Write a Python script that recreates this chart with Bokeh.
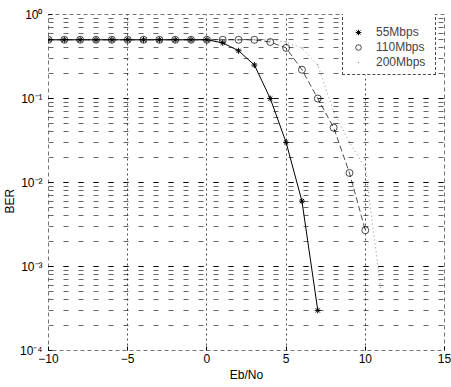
from bokeh.plotting import figure
from bokeh.models import FixedTicker, Range1d, Legend, LegendItem, CustomJSTickFormatter, Title
from bokeh.embed import file_html
from bokeh.resources import INLINE

# Data
x55 = [-10, -9, -8, -7, -6, -5, -4, -3, -2, -1, 0, 1, 2, 3, 4, 5, 6, 7]
ber55 = [0.5, 0.5, 0.5, 0.5, 0.5, 0.5, 0.5, 0.5, 0.5, 0.5, 0.5, 0.46, 0.37, 0.25, 0.1, 0.03, 0.006, 0.0003]

x110 = [-10, -9, -8, -7, -6, -5, -4, -3, -2, -1, 0, 1, 2, 3, 4, 5, 6, 7, 8, 9, 10]
ber110 = [0.5, 0.5, 0.5, 0.5, 0.5, 0.5, 0.5, 0.5, 0.5, 0.5, 0.5, 0.5, 0.5, 0.5, 0.47, 0.4, 0.22, 0.1, 0.045, 0.013, 0.0027]

x200 = [-10, -9, -8, -7, -6, -5, -4, -3, -2, -1, 0, 1, 2, 3, 4, 5, 6, 7, 8, 9, 10, 11]
ber200 = [0.5, 0.5, 0.5, 0.5, 0.5, 0.5, 0.5, 0.5, 0.5, 0.5, 0.5, 0.5, 0.5, 0.5, 0.5, 0.47, 0.4, 0.25, 0.07, 0.03, 0.015, 0.0005]

x_ticks = [-10, -5, 0, 5, 10, 15]
series_names = ["55Mbps", "110Mbps", "200Mbps"]
x_title = "Eb/No"
y_title = "BER"

FONT = "Liberation Sans"

p = figure(width=451, height=387, y_axis_type="log",
           x_range=Range1d(-10, 15), y_range=Range1d(1e-4, 1),
           output_backend="svg", toolbar_location=None,
           min_border_left=48, min_border_right=7, min_border_top=14, min_border_bottom=37)
p.background_fill_color = "white"
p.border_fill_color = "white"
p.outline_line_color = "black"
p.outline_line_alpha = 0.55
p.outline_line_dash = "4 3"

p.xaxis.ticker = FixedTicker(ticks=x_ticks)
p.yaxis.formatter = CustomJSTickFormatter(code="""
const sup = {"-": "\u207b", "0": "\u2070", "1": "\u00b9", "2": "\u00b2", "3": "\u00b3",
             "4": "\u2074", "5": "\u2075", "6": "\u2076", "7": "\u2077", "8": "\u2078", "9": "\u2079"};
const e = String(Math.round(Math.log10(tick)));
let s = "";
for (const ch of e) { s += sup[ch]; }
return "10" + s;
""")
for ax in (p.xaxis[0], p.yaxis[0]):
    ax.axis_line_color = None
    ax.major_tick_line_color = "black"
    ax.major_tick_in = 4
    ax.major_tick_out = 0
    ax.minor_tick_line_color = None
    ax.major_label_text_font = FONT
    ax.major_label_text_font_size = "12px"
    ax.major_label_text_color = "black"
    ax.axis_label_text_font = FONT
    ax.axis_label_text_font_size = "12px"
    ax.axis_label_text_font_style = "normal"
    ax.axis_label_text_color = "black"
p.xaxis.axis_label = x_title
p.xaxis.major_label_standoff = 3
p.xaxis.axis_label_standoff = 2
p.yaxis.major_label_standoff = 2

# y-axis title as a left-side title
p.add_layout(Title(text=y_title, align="left", offset=137, standoff=0,
                   text_font=FONT, text_font_size="12px", text_font_style="normal",
                   text_color="black"), "left")

p.xgrid.grid_line_color = "black"
p.xgrid.grid_line_alpha = 0.7
p.xgrid.grid_line_dash = "2 3"
p.ygrid.grid_line_color = "black"
p.ygrid.grid_line_alpha = 0.75
p.ygrid.grid_line_dash = "5 10"
p.ygrid.minor_grid_line_color = "black"
p.ygrid.minor_grid_line_alpha = 0.6
p.ygrid.minor_grid_line_dash = "5 10"

l1 = p.line(x55, ber55, line_color="black", line_width=1)
m1 = p.scatter(x55, ber55, marker="asterisk", size=6, line_color="black")
l2 = p.line(x110, ber110, line_color="black", line_width=1, line_dash="6 3", line_alpha=0.7)
m2 = p.scatter(x110, ber110, marker="circle", size=7, line_color="black", fill_color=None, line_alpha=0.7)
l3 = p.line(x200, ber200, line_color="black", line_width=1, line_dash="1 3", line_alpha=0.45)
m3 = p.scatter(x200, ber200, marker="dot", size=6, line_color="black", line_alpha=0.45)

legend = Legend(items=[LegendItem(label=series_names[0], renderers=[m1]),
                       LegendItem(label=series_names[1], renderers=[m2]),
                       LegendItem(label=series_names[2], renderers=[m3])],
                location=(294, 275))
legend.title = " "
legend.title_text_font_size = "4px"
legend.title_standoff = 2
legend.label_text_font = FONT
legend.label_text_font_size = "12px"
legend.label_height = 14
legend.glyph_height = 14
legend.glyph_width = 20
legend.label_standoff = 8
legend.label_width = 54
legend.spacing = 1
legend.padding = 5
legend.margin = 0
legend.border_line_color = "black"
legend.border_line_alpha = 0.7
legend.border_line_dash = "4 2"
legend.background_fill_color = "white"
legend.background_fill_alpha = 1.0
p.add_layout(legend)

open("out.html", "w").write(file_html(p, INLINE))
